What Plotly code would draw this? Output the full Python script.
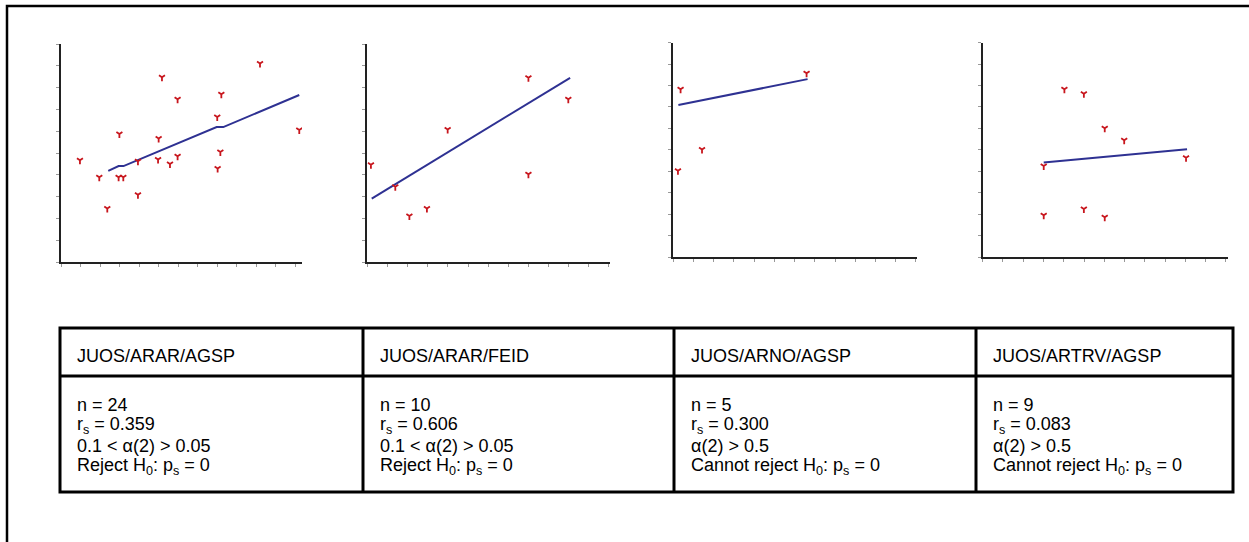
import plotly.graph_objects as go

W, H = 1249, 542

# ---------------- data ----------------
# Panel 1: JUOS/ARAR/AGSP
p1_x = [0.97, 1.96, 2.37, 2.99, 2.95, 3.19, 3.94, 3.94, 5.0, 4.97, 5.17, 5.58, 5.97, 5.97, 8.0, 8.02, 8.16, 8.21, 10.19, 12.2]
p1_y = [4.67, 3.89, 2.45, 5.87, 3.89, 3.89, 4.62, 3.09, 5.67, 4.70, 8.47, 4.49, 7.46, 4.85, 6.65, 4.29, 5.05, 7.69, 9.10, 6.06]
p1_fx = [2.42, 2.95, 3.2, 7.97, 8.31, 12.2]
p1_fy = [4.18, 4.40, 4.40, 6.19, 6.19, 7.66]

# Panel 2: JUOS/ARAR/FEID
p2_x = [0.18, 1.39, 2.09, 2.96, 3.99, 8.0, 8.0, 9.98]
p2_y = [4.46, 3.45, 2.11, 2.45, 6.08, 8.45, 4.03, 7.46]
p2_fx = [0.22, 10.07]
p2_fy = [2.91, 8.45]

# Panel 3: JUOS/ARNO/AGSP
p3_x = [0.36, 0.23, 1.42, 6.59]
p3_y = [7.83, 4.03, 5.02, 8.57]
p3_fx = [0.25, 6.64]
p3_fy = [7.09, 8.30]

# Panel 4: JUOS/ARTRV/AGSP
p4_x = [3.01, 3.01, 4.03, 4.99, 4.99, 6.02, 6.02, 6.98, 10.03]
p4_y = [4.25, 1.95, 7.83, 7.62, 2.24, 6.01, 1.85, 5.45, 4.63]
p4_fx = [3.01, 10.08]
p4_fy = [4.41, 5.03]

headers = ["JUOS/ARAR/AGSP", "JUOS/ARAR/FEID", "JUOS/ARNO/AGSP", "JUOS/ARTRV/AGSP"]
n_vals = ["n = 24", "n = 10", "n = 5", "n = 9"]
rs_vals = ["r<sub>s</sub> = 0.359", "r<sub>s</sub> = 0.606", "r<sub>s</sub> = 0.300", "r<sub>s</sub> = 0.083"]
alpha_vals = ["0.1 < α(2) > 0.05", "0.1 < α(2) > 0.05", "α(2) > 0.5", "α(2) > 0.5"]
concl_vals = ["Reject H<sub>0</sub>: p<sub>s</sub> = 0", "Reject H<sub>0</sub>: p<sub>s</sub> = 0",
              "Cannot reject H<sub>0</sub>: p<sub>s</sub> = 0", "Cannot reject H<sub>0</sub>: p<sub>s</sub> = 0"]

# ---------------- layout geometry (pixels) ----------------
panels = [
    dict(x0=61, x1=302, xr=12.34, ytop=44, ybot=262, sx=p1_x, sy=p1_y, fx=p1_fx, fy=p1_fy),
    dict(x0=367.3, x1=610, xr=12.05, ytop=44, ybot=262, sx=p2_x, sy=p2_y, fx=p2_fx, fy=p2_fy),
    dict(x0=673.3, x1=917, xr=12.05, ytop=42.7, ybot=257, sx=p3_x, sy=p3_y, fx=p3_fx, fy=p3_fy),
    dict(x0=982.7, x1=1228, xr=12.1, ytop=42.7, ybot=257, sx=p4_x, sy=p4_y, fx=p4_fx, fy=p4_fy),
]

def px(x):
    return x / W

def py(y):
    return 1 - y / H

FONT = "Liberation Sans, Arial, sans-serif"
fig = go.Figure()
layout = dict(width=W, height=H, margin=dict(l=0, r=0, t=0, b=0),
              paper_bgcolor="white", plot_bgcolor="white", showlegend=False,
              font=dict(family=FONT, color="black"))

MARK = "#c8161d"
LINE = "#2e3192"

for i, p in enumerate(panels, start=1):
    xa = "x" if i == 1 else f"x{i}"
    ya = "y" if i == 1 else f"y{i}"
    fig.add_trace(go.Scatter(x=p["fx"], y=p["fy"], mode="lines", xaxis=xa, yaxis=ya,
                             line=dict(color=LINE, width=2), hoverinfo="skip"))
    fig.add_trace(go.Scatter(x=p["sx"], y=p["sy"], mode="markers", xaxis=xa, yaxis=ya,
                             marker=dict(symbol="y-down-open", size=5, color=MARK,
                                         line=dict(color=MARK, width=1.8))))
    axcommon = dict(showgrid=False, zeroline=False, showticklabels=False, ticks="outside",
                    ticklen=3, tickwidth=1, tickcolor="#999999", showline=True,
                    linecolor="#222222", linewidth=2, fixedrange=True)
    layout["xaxis" if i == 1 else f"xaxis{i}"] = dict(
        domain=[px(p["x0"]), px(p["x1"])], range=[0, p["xr"]], tickmode="linear", tick0=0, dtick=1,
        anchor=ya, **axcommon)
    layout["yaxis" if i == 1 else f"yaxis{i}"] = dict(
        domain=[py(p["ybot"]), py(p["ytop"])], range=[0, 10], tickmode="linear", tick0=0, dtick=1,
        anchor=xa, **axcommon)

fig.update_layout(**layout)

# ---------------- outer frame ----------------
fig.add_shape(type="path", xref="paper", yref="paper",
              path=f"M {px(7)} {py(542)} L {px(7)} {py(6)} L {px(1249)} {py(6)}",
              line=dict(color="black", width=2.5))

# ---------------- table ----------------
col_x = [60, 363, 674, 976, 1233]
t_top, t_mid, t_bot = 328, 376, 492
BW = 3
fig.add_shape(type="rect", xref="paper", yref="paper",
              x0=px(col_x[0]), x1=px(col_x[-1]), y0=py(t_bot), y1=py(t_top),
              line=dict(color="black", width=BW))
fig.add_shape(type="line", xref="paper", yref="paper",
              x0=px(col_x[0]), x1=px(col_x[-1]), y0=py(t_mid), y1=py(t_mid),
              line=dict(color="black", width=BW))
for cx in col_x[1:-1]:
    fig.add_shape(type="line", xref="paper", yref="paper",
                  x0=px(cx), x1=px(cx), y0=py(t_bot), y1=py(t_top),
                  line=dict(color="black", width=BW))

rows = [(headers, 356), (n_vals, 404.5), (rs_vals, 425), (alpha_vals, 445.5), (concl_vals, 466)]
for texts, yc in rows:
    for j, t in enumerate(texts):
        fig.add_annotation(x=px(col_x[j] + 16), y=py(yc), xref="paper", yref="paper",
                           text=t, showarrow=False, xanchor="left", yanchor="middle",
                           borderpad=0,
                           font=dict(size=18, family=FONT, color="black"))

fig.write_html("out.html")
